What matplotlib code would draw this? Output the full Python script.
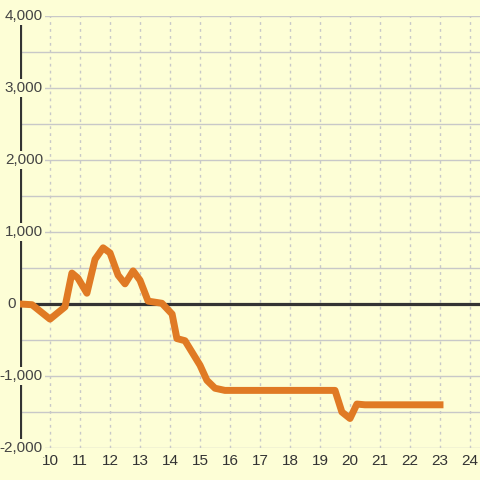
import matplotlib.pyplot as plt

# chart data
hours = [9.0, 9.4, 10.0, 10.5, 10.73, 10.93, 11.23, 11.5, 11.77, 12.0, 12.27, 12.5,
         12.77, 13.0, 13.27, 13.73, 14.07, 14.23, 14.5, 15.0, 15.23, 15.5, 15.83,
         19.5, 19.73, 20.0, 20.23, 20.5, 23.0]
values = [0, -10, -210, -40, 430, 360, 150, 620, 780, 710, 400, 280,
          460, 330, 40, 10, -140, -480, -510, -850, -1060, -1170, -1200,
          -1200, -1500, -1590, -1390, -1400, -1400]
x_ticks = list(range(10, 25))
y_grid = list(range(-2000, 4001, 500))
y_labels = [-2000, -1000, 0, 1000, 2000, 3000, 4000]

BG = '#fdfed6'
plt.rcParams['font.family'] = ['Liberation Sans', 'DejaVu Sans']

fig = plt.figure(figsize=(4.8, 4.8), dpi=100, facecolor=BG)
ax = fig.add_axes([20 / 480, 32 / 480, 460 / 480, 432 / 480], facecolor=BG)
ax.set_xlim(9, 9 + 460 / 30)
ax.set_ylim(-2000, 4000)

for s in ax.spines.values():
    s.set_visible(False)

ax.set_yticks(y_grid)
ax.set_yticklabels([])
ax.set_xticks(x_ticks)
ax.tick_params(length=0)
ax.tick_params(axis='x', labelsize=11, labelcolor='#333333', pad=4.5)
ax.yaxis.grid(True, color='#c8c8c8', lw=1, ls='-')
ax.xaxis.grid(True, color='#c8c8c8', lw=1, ls=(0, (2, 3)))
ax.set_axisbelow(True)

ax.axvline(9, color='#333333', lw=2.3, zorder=2)
ax.axhline(0, color='#333333', lw=2.3, zorder=2)

ax.plot(hours, values, color='#e07a24', lw=5, zorder=5,
        solid_capstyle='projecting', solid_joinstyle='round')

ytf = ax.get_yaxis_transform()
for v in y_labels:
    right_px = 16 if v == 0 else 43
    ax.text((right_px - 20) / 460, v, f'{v:,}', transform=ytf, ha='right', va='center',
            fontsize=11, color='#444444', zorder=4, clip_on=False,
            bbox=dict(boxstyle='square,pad=0.15', facecolor=BG, edgecolor='none'))

fig.savefig('out.png', dpi=100, facecolor=BG)
